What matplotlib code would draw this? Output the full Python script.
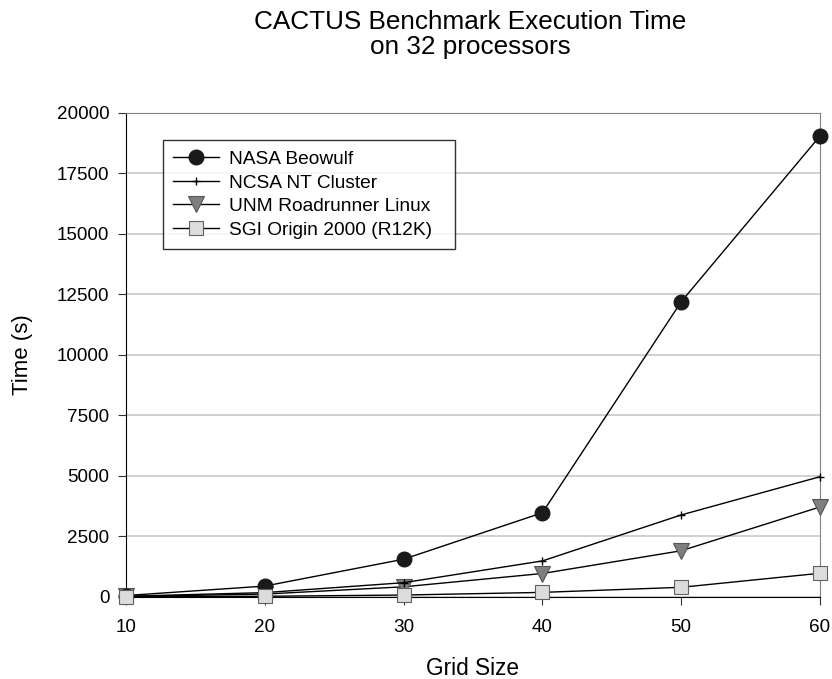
import numpy as np
import matplotlib.pyplot as plt

plt.rcParams['font.family'] = ['Liberation Sans', 'DejaVu Sans']

# data
grid_size = [10, 20, 30, 40, 50, 60]
nasa_beowulf = [60, 450, 1560, 3480, 12200, 19050]
ncsa_nt = [30, 180, 590, 1490, 3390, 4970]
unm_roadrunner = [20, 120, 420, 970, 1910, 3720]
sgi_origin = [5, 30, 80, 190, 400, 980]

fig = plt.figure(figsize=(8.32, 6.79), dpi=100)
ax = fig.add_axes([0.1514, 0.1208, 0.8342, 0.7128])

ax.plot(grid_size, nasa_beowulf, color='black', lw=1, marker='o', ms=10.5,
        mfc='#1a1a1a', mec='#1a1a1a', label='NASA Beowulf', zorder=5, clip_on=False)
ax.plot(grid_size, ncsa_nt, color='black', lw=1, marker='+', ms=6, mew=1,
        label='NCSA NT Cluster', zorder=4, clip_on=False)
ax.plot(grid_size, unm_roadrunner, color='black', lw=1, marker='v', ms=11,
        mfc='#7f7f7f', mec='#555555', mew=0.8, label='UNM Roadrunner Linux',
        zorder=3, clip_on=False)
ax.plot(grid_size, sgi_origin, color='black', lw=1, marker='s', ms=9.5,
        mfc='#dcdcdc', mec='#606060', mew=0.8, label='SGI Origin 2000 (R12K)',
        zorder=6, clip_on=False)

ax.set_xlim(10, 60)
ax.set_ylim(0, 20000)
ax.set_xticks(grid_size)
ax.set_yticks(np.arange(0, 20001, 2500))
ax.yaxis.grid(True, color='#c8c8c8', lw=1.2)
ax.set_axisbelow(True)

for s in ['top', 'right']:
    ax.spines[s].set_color('#808080')
for s in ['left', 'bottom']:
    ax.spines[s].set_color('black')
ax.tick_params(axis='both', labelsize=13.6, color='#333333', length=6)
ax.tick_params(axis='x', pad=10)
ax.tick_params(axis='y', pad=6)

ax.set_xlabel('Grid Size', fontsize=16.3, labelpad=15)
ax.set_ylabel('Time (s)', fontsize=16, labelpad=17)

fig.text(0.565, 0.986, 'CACTUS Benchmark Execution Time\non 32 processors',
         ha='center', va='top', fontsize=18.8, linespacing=1.1)

leg = ax.legend(loc='upper left', bbox_to_anchor=(0.0533, 0.0, 0.4207, 0.944),
                mode='expand', borderaxespad=0,
                fontsize=13.8, frameon=True, fancybox=False, edgecolor='black',
                handlelength=2.35, borderpad=0.55, labelspacing=0.32, handletextpad=0.55)
leg.get_frame().set_linewidth(1)

fig.savefig('out.png', dpi=100)
